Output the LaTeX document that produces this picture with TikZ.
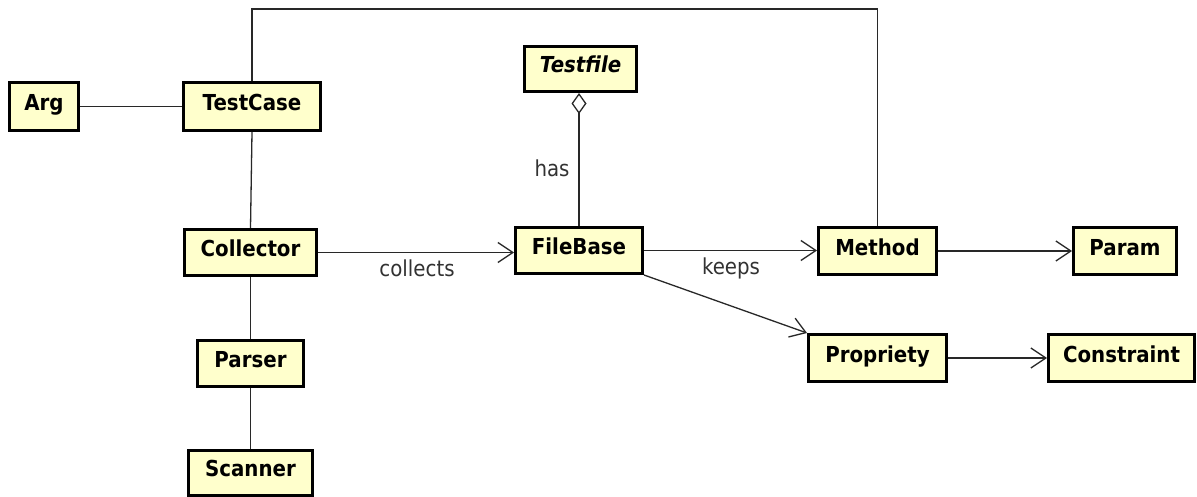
\documentclass[tikz,border=0pt]{standalone}
\usepackage{fontspec}
\setmainfont[FakeStretch=0.9]{DejaVu Sans}
\usetikzlibrary{arrows.meta}
\definecolor{classfill}{RGB}{255,255,204}
\definecolor{linkgray}{RGB}{40,40,40}
\definecolor{labelgray}{RGB}{50,50,50}
\tikzset{
  cls/.style={draw=black, line width=3pt, fill=classfill, inner sep=0pt,
    text height=14pt, text depth=6pt,
    font=\fontsize{22}{26}\selectfont\bfseries, text=black},
  link/.style={draw=linkgray, line width=1.3pt},
  nav/.style={link, -{Straight Barb[length=15pt, width=20pt, line width=1.3pt]}},
  agg/.style={link, -{Diamond[open, length=21pt, width=15pt, line width=1.3pt, fill=white]}},
  lbl/.style={font=\fontsize{22}{26}\selectfont, text=labelgray, inner sep=0pt}
}
\begin{document}
\begin{tikzpicture}[x=1pt, y=-1pt]
  \useasboundingbox (0,0) rectangle (1197,497);

  % classes
  \node[cls, minimum width=69, minimum height=48] (arg) at (44,106.5) {Arg};
  \node[cls, minimum width=137, minimum height=48] (testcase) at (252,106.5) {TestCase};
  \node[cls, minimum width=112, minimum height=45] (testfile) at (580.5,69) {\itshape Testfile};
  \node[cls, minimum width=127, minimum height=46] (filebase) at (579,250.5) {FileBase};
  \node[cls, minimum width=132, minimum height=46] (collector) at (250.5,252.5) {Collector};
  \node[cls, minimum width=106, minimum height=46] (parser) at (250.5,363.5) {Parser};
  \node[cls, minimum width=124, minimum height=45] (scanner) at (250.5,472.5) {Scanner};
  \node[cls, minimum width=118, minimum height=47] (method) at (877.5,251) {Method};
  \node[cls, minimum width=103, minimum height=47] (param) at (1125,251) {Param};
  \node[cls, minimum width=138, minimum height=47] (propriety) at (877.5,358) {Propriety};
  \node[cls, minimum width=146, minimum height=47] (constraint) at (1121.5,358) {Constraint};

  % route of the long link over the top
  \coordinate (top) at (0,9);

  % plain associations
  \draw[link] (arg) -- (testcase);
  \draw[link] (testcase.south) -- (collector.north);
  \draw[link] (collector) -- (parser);
  \draw[link] (parser) -- (scanner);
  \draw[link] (testcase.north) -- (testcase.north |- top) -- (method.north |- top) -- (method.north);

  % directed associations
  \draw[nav] (collector.east) -- (filebase.west |- collector.east);
  \node[lbl] (collectslbl) at (417,268) {collects};
  \draw[nav] (filebase.east) -- (method.west |- filebase.east);
  \node[lbl] (keepslbl) at (731,268) {keeps};
  \draw[nav] (filebase.south east) -- (propriety.north west);
  \draw[nav] (method) -- (param);
  \draw[nav] (propriety) -- (constraint);

  % aggregation
  \draw[agg] (filebase.north) -- (filebase.north |- testfile.south);
  \node[lbl] (haslbl) at (552,168) {has};
\end{tikzpicture}
\end{document}
